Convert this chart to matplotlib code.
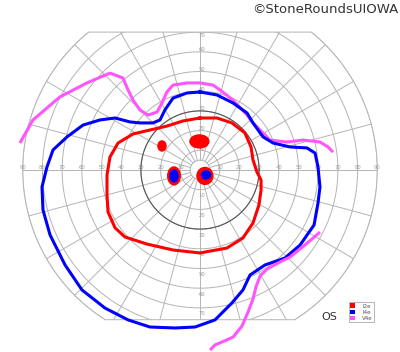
import numpy as np
import matplotlib
matplotlib.use('Agg')
import matplotlib.pyplot as plt
from matplotlib.patches import Polygon, Ellipse, Patch

# isopters, x/y eccentricity in degrees (x right, y up)
i4e_x = [0, 8.6, 16.8, 23.9, 26.9, 32.0, 37.1, 45.7, 54.3, 58.4, 59.9, 60.9, 59.9, 57.9,
         50.8, 43.1, 33.0, 25.4, 21.8, 16.2, 7.6, -2.5, -12.7, -25.4, -36.5, -48.2, -59.9,
         -68.5, -76.1, -79.7, -80.2, -77.7, -74.6, -67.5, -59.4, -50.8, -43.1, -35.5,
         -30.5, -23.9, -20.3, -17.8, -13.7, -6.6]
i4e_y = [39.6, 38.1, 34.0, 28.9, 23.9, 16.8, 13.7, 11.7, 11.2, 8.6, 1.5, -8.6, -16.8, -27.9,
         -38.1, -44.7, -48.2, -53.3, -60.9, -67.5, -76.1, -79.7, -80.2, -79.7, -76.1, -70.1,
         -60.9, -48.2, -33.0, -20.3, -8.6, 1.5, 10.2, 16.8, 22.8, 25.4, 26.4, 24.4, 23.9,
         23.9, 25.4, 30.5, 36.5, 39.1]

i2e_x = [0, 8.6, 16.2, 22.8, 25.9, 26.9, 28.9, 31.0, 31.0, 29.9, 26.9, 21.8, 13.7, 0,
         -13.7, -26.9, -38.1, -43.1, -46.7, -47.2, -47.2, -45.7, -41.6, -34.0, -25.4,
         -16.8, -8.6]
i2e_y = [26.4, 26.4, 23.9, 18.8, 11.7, 5.1, -1.0, -5.1, -10.2, -17.8, -26.9, -34.5, -39.6,
         -42.1, -40.6, -37.6, -34.0, -29.4, -21.3, -12.7, -2.5, 6.6, 13.7, 18.3, 20.3,
         22.3, 24.9]

v4e_top_x = [-91.4, -84.8, -71.1, -57.4, -45.7, -39.1, -36.5, -34.0, -30.5, -26.4, -21.8,
             -19.3, -16.8, -13.7, -6.6, 0, 6.6, 10.2, 16.8, 23.9, 26.4, 30.5, 35.5, 44.2,
             52.3, 60.9, 65.0, 67.5]
v4e_top_y = [13.7, 25.4, 37.1, 44.2, 49.2, 46.7, 40.6, 35.5, 30.5, 27.9, 29.4, 34.0, 39.6,
             43.1, 44.2, 44.2, 43.1, 40.6, 35.5, 27.9, 24.4, 20.3, 15.2, 14.2, 15.2, 14.2,
             11.7, 9.1]
v4e_bot_x = [60.9, 56.9, 50.8, 45.7, 40.6, 34.0, 30.5, 28.4, 26.9, 24.4, 21.3, 16.8, 11.2,
             7.6, 5.1]
v4e_bot_y = [-31.5, -35.0, -40.1, -44.2, -46.7, -50.3, -53.8, -59.4, -65.5, -72.1, -79.2,
             -84.8, -87.3, -88.8, -91.4]

# scotomas: (x, y, width, height) in degrees
i2e_spots = [(-19.3, 12.2, 4.1, 5.1), (-0.3, 14.5, 9.6, 6.6),
             (-13.2, -3.0, 6.4, 9.1), (2.5, -3.0, 8.1, 8.6)]
i4e_spots = [(-13.2, -3.0, 4.1, 6.1), (3.1, -2.5, 4.6, 4.1)]

rings = [5, 10, 20, 30, 40, 50, 60, 70, 80, 90]
axis_labels = [10, 20, 30, 40, 50, 60, 70, 80, 90]
vert_labels = [10, 20, 30, 40, 50, 60, 70]

RED, BLUE, PINK = '#ff0000', '#0000ff', '#ff55ff'
GRID = '#b4b4b4'

s = 1.97  # px per degree
fig = plt.figure(figsize=(4, 3.52), dpi=100)
ax = fig.add_axes([0, 0, 1, 1])
ax.set_xlim(-200 / s, 200 / s)
ax.set_ylim(-182 / s, 170 / s)
ax.set_aspect('equal')
ax.axis('off')

# clipped field outline (flat top and bottom)
ytop, ybot = 70.0, -76.0
a0 = np.arcsin(ybot / 90)
a1 = np.arcsin(ytop / 90)
t_right = np.linspace(a0, a1, 100)
t_left = np.linspace(np.pi - a1, np.pi - a0, 100)
outline = np.vstack([np.c_[90 * np.cos(t_right), 90 * np.sin(t_right)],
                     np.c_[90 * np.cos(t_left), 90 * np.sin(t_left)]])
field = Polygon(outline, closed=True, fill=False, edgecolor=GRID, lw=0.7, zorder=1)
ax.add_patch(field)

t = np.linspace(0, 2 * np.pi, 400)
for r in rings:
    ln, = ax.plot(r * np.cos(t), r * np.sin(t), color=GRID, lw=0.7, zorder=1)
    ln.set_clip_path(field)
ax.plot(30 * np.cos(t), 30 * np.sin(t), color='#555555', lw=0.8, zorder=2)

for ang in np.arange(0, 360, 15):
    a = np.radians(ang)
    ln, = ax.plot([5 * np.cos(a), 95 * np.cos(a)], [5 * np.sin(a), 95 * np.sin(a)],
                  color=GRID, lw=0.7, zorder=1)
    ln.set_clip_path(field)

lab_kw = dict(fontsize=3.8, color='#999999', ha='center', va='center', zorder=1.5)
for r in axis_labels:
    ax.text(r, 1.2, str(r), **lab_kw)
    ax.text(-r, 1.2, str(r), **lab_kw)
for r in vert_labels:
    ax.text(1.0, min(r + 1, 68.5), str(r), **lab_kw)
    ax.text(1.0, -(r + 3), str(r), **lab_kw)

lw = 2.2
ax.plot(i2e_x + i2e_x[:1], i2e_y + i2e_y[:1], color=RED, lw=lw, zorder=4,
        solid_joinstyle='round')
ax.plot(i4e_x + i4e_x[:1], i4e_y + i4e_y[:1], color=BLUE, lw=lw, zorder=4,
        solid_joinstyle='round')
ax.plot(v4e_top_x, v4e_top_y, color=PINK, lw=lw, zorder=3, solid_capstyle='butt')
ax.plot(v4e_bot_x, v4e_bot_y, color=PINK, lw=lw, zorder=5, solid_capstyle='butt')

for x, y, w, h in i2e_spots:
    ax.add_patch(Ellipse((x, y), w, h, color=RED, zorder=6))
for x, y, w, h in i4e_spots:
    ax.add_patch(Ellipse((x, y), w, h, color=BLUE, zorder=7))

fig.text(398 / 400, 1 - 3 / 352, '\u00a9StoneRoundsUIOWA', ha='right', va='top',
         fontsize=9.5, color='#333333')
fig.text(329 / 400, 1 - 317 / 352, 'OS', ha='center', va='center', fontsize=8,
         color='#333333')

handles = [Patch(facecolor=RED, edgecolor='none', label='I2e'),
           Patch(facecolor=BLUE, edgecolor='none', label='I4e'),
           Patch(facecolor=PINK, edgecolor='none', label='V4e')]
leg = fig.legend(handles=handles, loc='upper left',
                 bbox_to_anchor=(346 / 400, 1 - 299 / 352), fontsize=4,
                 handlelength=0.9, handleheight=0.9, handletextpad=1.2,
                 borderpad=0.3, labelspacing=0.15, fancybox=False,
                 edgecolor='#aaaaaa', framealpha=1)
leg.get_frame().set_linewidth(0.6)
for txt in leg.get_texts():
    txt.set_color('#555555')

fig.savefig('out.png', dpi=100)
